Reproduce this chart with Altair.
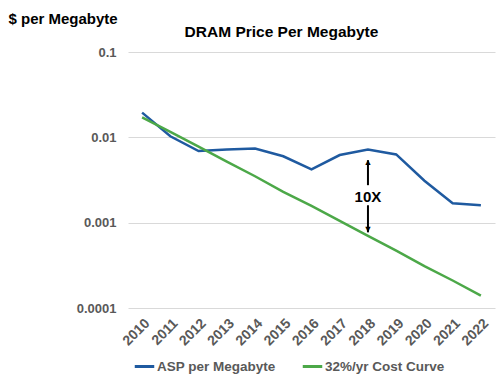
import altair as alt
import pandas as pd

years = list(range(2010, 2023))
asp = [0.0195, 0.0103, 0.0069, 0.0072, 0.0074, 0.0060, 0.0042,
       0.0062, 0.0072, 0.0063, 0.0031, 0.00169, 0.0016]
cost = [0.0171, 0.0116, 0.0078, 0.0052, 0.0035, 0.0023, 0.00157,
        0.00105, 0.0007, 0.00047, 0.00031, 0.00021, 0.00014]
series = ["ASP per Megabyte", "32%/yr Cost Curve"]
colors = ["#1F5AA0", "#4CA848"]
chart_title = ["DRAM Price Per Megabyte"]

arrow_year = [2018]
arrow_top = [0.0054]
arrow_upper_start = [0.00275]
arrow_lower_start = [0.0016]
arrow_bottom = [0.00077]
arrow_label = ["10X"]
arrow_label_y = [0.00199]

rows = []
for s, vals in zip(series, [asp, cost]):
    for y, v in zip(years, vals):
        rows.append({"Year": y, "Value": v, "Series": s})
df = pd.DataFrame(rows)

FONT = "Liberation Sans"
GRAY = "#595959"

xscale = alt.Scale(type="point", domain=years, padding=0.5)
yscale = alt.Scale(type="log", domain=[0.0001, 0.1], nice=False)

lines = alt.Chart(df).mark_line(strokeWidth=2.5).encode(
    x=alt.X("Year:O", scale=xscale,
            axis=alt.Axis(labelAngle=-45, labelAlign="right",
                          labelBaseline="top", labelFontSize=14, labelFontWeight="bold",
                          labelColor=GRAY, labelFont=FONT, grid=False, ticks=False,
                          domain=False, labelPadding=8, title=None, labelOverlap=False)),
    y=alt.Y("Value:Q", scale=yscale,
            axis=alt.Axis(values=[0.0001, 0.001, 0.01, 0.1], format="~g",
                          labelFontSize=13, labelFontWeight="bold", labelColor=GRAY,
                          labelFont=FONT, ticks=False, domain=False, labelPadding=12,
                          gridColor="#D9D9D9", gridWidth=1,
                          title="$ per Megabyte", titleAngle=0, titleAlign="left",
                          titleBaseline="alphabetic", titleX=-120, titleY=-29,
                          titleFont=FONT, titleFontSize=15, titleFontWeight="bold",
                          titleColor="#000000")),
    color=alt.Color("Series:N", scale=alt.Scale(domain=series, range=colors),
                    legend=alt.Legend(title=None, orient="none", direction="horizontal",
                                      legendX=5, legendY=303, symbolType="stroke",
                                      symbolStrokeWidth=3, symbolSize=380,
                                      labelFont=FONT, labelFontSize=13.5,
                                      labelFontWeight="bold", labelColor=GRAY,
                                      labelOffset=1, columnPadding=20)),
    order=alt.Order("Year:O"),
)

adf = pd.DataFrame({"Year": arrow_year, "top": arrow_top, "us": arrow_upper_start,
                    "ls": arrow_lower_start, "bottom": arrow_bottom,
                    "label": arrow_label, "ly": arrow_label_y})

base = alt.Chart(adf)
upper = base.mark_rule(color="black", strokeWidth=2).encode(
    x=alt.X("Year:O", scale=xscale), y=alt.Y("us:Q", scale=yscale), y2="top:Q")
lower = base.mark_rule(color="black", strokeWidth=2).encode(
    x=alt.X("Year:O", scale=xscale), y=alt.Y("ls:Q", scale=yscale), y2="bottom:Q")
head_up = base.mark_text(text="▲", fontSize=9, color="black", baseline="top", dy=-2).encode(
    x=alt.X("Year:O", scale=xscale), y=alt.Y("top:Q", scale=yscale))
head_down = base.mark_text(text="▼", fontSize=9, color="black", baseline="bottom", dy=2).encode(
    x=alt.X("Year:O", scale=xscale), y=alt.Y("bottom:Q", scale=yscale))
label = base.mark_text(font=FONT, fontSize=15, fontWeight="bold", color="black",
                       baseline="middle").encode(
    x=alt.X("Year:O", scale=xscale), y=alt.Y("ly:Q", scale=yscale), text="label:N")

tdf = pd.DataFrame({"title": chart_title})
title = alt.Chart(tdf).mark_text(font=FONT, fontSize=15.5, fontWeight="bold",
                                 color="#000000", baseline="alphabetic",
                                 align="center").encode(
    x=alt.value(153.5), y=alt.value(-15), text="title:N")

chart = alt.layer(lines, upper, lower, head_up, head_down, label, title).properties(
    width=367, height=256,
    autosize=alt.AutoSizeParams(type="none"),
    padding={"left": 128, "top": 52, "right": 5, "bottom": 69},
).configure_view(stroke=None)

chart.save("out.html", embed_options={"renderer": "svg", "actions": False})
